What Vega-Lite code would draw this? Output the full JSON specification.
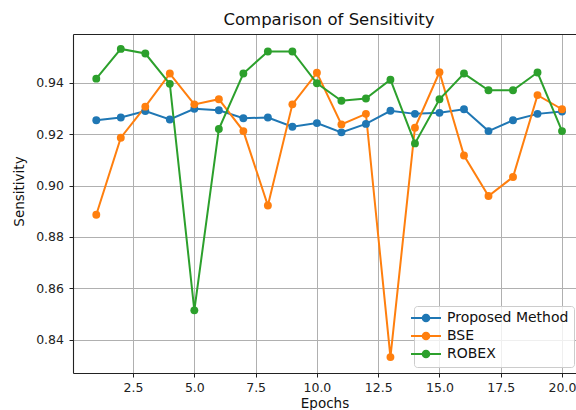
{
  "$schema": "https://vega.github.io/schema/vega-lite/v6.json",
  "width": 503,
  "height": 339,
  "autosize": {"type": "none"},
  "padding": {"left": 73, "top": 34, "right": 0, "bottom": 37},
  "background": "white",
  "title": {"text": "Comparison of Sensitivity", "fontSize": 16.5, "font": "DejaVu Sans", "fontWeight": "normal", "color": "#111", "anchor": "middle", "dx": 4.5, "offset": 6},
  "config": {
    "view": {"stroke": null},
    "font": "DejaVu Sans",
    "axis": {"gridColor": "#b0b0b0", "gridWidth": 1, "domainColor": "#222", "domainWidth": 1.1, "tickColor": "#222", "tickSize": 4, "labelFontSize": 12.5, "labelColor": "#222", "titleFontSize": 13.5, "titleFontWeight": "normal", "titleColor": "#111", "labelFont": "DejaVu Sans", "titleFont": "DejaVu Sans"}
  },
  "data": {"values": [
    {"epoch": 1, "method": "Proposed Method", "value": 0.9254},
    {"epoch": 2, "method": "Proposed Method", "value": 0.9265},
    {"epoch": 3, "method": "Proposed Method", "value": 0.929},
    {"epoch": 4, "method": "Proposed Method", "value": 0.9257},
    {"epoch": 5, "method": "Proposed Method", "value": 0.9299},
    {"epoch": 6, "method": "Proposed Method", "value": 0.9293},
    {"epoch": 7, "method": "Proposed Method", "value": 0.9262},
    {"epoch": 8, "method": "Proposed Method", "value": 0.9265},
    {"epoch": 9, "method": "Proposed Method", "value": 0.9229},
    {"epoch": 10, "method": "Proposed Method", "value": 0.9243},
    {"epoch": 11, "method": "Proposed Method", "value": 0.9207},
    {"epoch": 12, "method": "Proposed Method", "value": 0.924},
    {"epoch": 13, "method": "Proposed Method", "value": 0.9291},
    {"epoch": 14, "method": "Proposed Method", "value": 0.9279},
    {"epoch": 15, "method": "Proposed Method", "value": 0.9283},
    {"epoch": 16, "method": "Proposed Method", "value": 0.9297},
    {"epoch": 17, "method": "Proposed Method", "value": 0.9212},
    {"epoch": 18, "method": "Proposed Method", "value": 0.9254},
    {"epoch": 19, "method": "Proposed Method", "value": 0.9279},
    {"epoch": 20, "method": "Proposed Method", "value": 0.9288},
    {"epoch": 1, "method": "BSE", "value": 0.8886},
    {"epoch": 2, "method": "BSE", "value": 0.9186},
    {"epoch": 3, "method": "BSE", "value": 0.9307},
    {"epoch": 4, "method": "BSE", "value": 0.9436},
    {"epoch": 5, "method": "BSE", "value": 0.9316},
    {"epoch": 6, "method": "BSE", "value": 0.9336},
    {"epoch": 7, "method": "BSE", "value": 0.9212},
    {"epoch": 8, "method": "BSE", "value": 0.8922},
    {"epoch": 9, "method": "BSE", "value": 0.9316},
    {"epoch": 10, "method": "BSE", "value": 0.9439},
    {"epoch": 11, "method": "BSE", "value": 0.9238},
    {"epoch": 12, "method": "BSE", "value": 0.9279},
    {"epoch": 13, "method": "BSE", "value": 0.8332},
    {"epoch": 14, "method": "BSE", "value": 0.9225},
    {"epoch": 15, "method": "BSE", "value": 0.9441},
    {"epoch": 16, "method": "BSE", "value": 0.9117},
    {"epoch": 17, "method": "BSE", "value": 0.8959},
    {"epoch": 18, "method": "BSE", "value": 0.9033},
    {"epoch": 19, "method": "BSE", "value": 0.9352},
    {"epoch": 20, "method": "BSE", "value": 0.9297},
    {"epoch": 1, "method": "ROBEX", "value": 0.9416},
    {"epoch": 2, "method": "ROBEX", "value": 0.9532},
    {"epoch": 3, "method": "ROBEX", "value": 0.9514},
    {"epoch": 4, "method": "ROBEX", "value": 0.9396},
    {"epoch": 5, "method": "ROBEX", "value": 0.8514},
    {"epoch": 6, "method": "ROBEX", "value": 0.922},
    {"epoch": 7, "method": "ROBEX", "value": 0.9436},
    {"epoch": 8, "method": "ROBEX", "value": 0.9522},
    {"epoch": 9, "method": "ROBEX", "value": 0.9522},
    {"epoch": 10, "method": "ROBEX", "value": 0.9398},
    {"epoch": 11, "method": "ROBEX", "value": 0.933},
    {"epoch": 12, "method": "ROBEX", "value": 0.9339},
    {"epoch": 13, "method": "ROBEX", "value": 0.9412},
    {"epoch": 14, "method": "ROBEX", "value": 0.9164},
    {"epoch": 15, "method": "ROBEX", "value": 0.9336},
    {"epoch": 16, "method": "ROBEX", "value": 0.9436},
    {"epoch": 17, "method": "ROBEX", "value": 0.9371},
    {"epoch": 18, "method": "ROBEX", "value": 0.9371},
    {"epoch": 19, "method": "ROBEX", "value": 0.944},
    {"epoch": 20, "method": "ROBEX", "value": 0.9212}
  ]},
  "encoding": {
    "y": {"field": "value", "type": "quantitative", "scale": {"domain": [0.827, 0.959], "nice": false, "zero": false},
      "axis": {"values": [0.84, 0.86, 0.88, 0.90, 0.92, 0.94], "format": ".2f", "title": "Sensitivity", "labelPadding": 5.5, "titlePadding": 9, "titleY": 157}},
    "color": {"field": "method", "type": "nominal",
      "scale": {"domain": ["Proposed Method", "BSE", "ROBEX"], "range": ["#1f77b4", "#ff7f0e", "#2ca02c"]},
      "legend": {"title": null, "orient": "none", "legendX": 341, "legendY": 272,
        "fillColor": "rgba(255,255,255,0.8)", "strokeColor": "#cccccc", "cornerRadius": 3, "padding": 5,
        "labelFontSize": 14, "labelFont": "DejaVu Sans", "labelColor": "#111", "labelOffset": 14,
        "symbolType": "M-2.5,0L2.5,0M0.55,0A0.55,0.55,0,1,1,-0.55,0A0.55,0.55,0,1,1,0.55,0Z",
        "symbolSize": 144, "symbolStrokeWidth": 2, "rowPadding": 2,
        "encode": {"symbols": {"update": {"fill": {"scale": "color", "field": "value"}, "stroke": {"scale": "color", "field": "value"}, "fillOpacity": {"value": 1}}}}}}
  },
  "layer": [
    {"mark": {"type": "line", "strokeWidth": 2},
     "encoding": {"x": {"field": "epoch", "type": "quantitative", "scale": {"domain": [0.05, 20.57], "nice": false, "zero": false},
       "axis": {"values": [2.5, 5, 7.5, 10, 12.5, 15, 17.5, 20], "format": ".1f", "title": "Epochs", "labelPadding": 4, "titlePadding": 3}}}},
    {"mark": {"type": "point", "filled": true, "size": 62, "opacity": 1},
     "encoding": {"x": {"field": "epoch", "type": "quantitative",
       "axis": {"orient": "top", "labels": false, "ticks": false, "grid": false, "domain": true, "title": null}}}}
  ],
  "resolve": {"axis": {"x": "independent"}}
}
